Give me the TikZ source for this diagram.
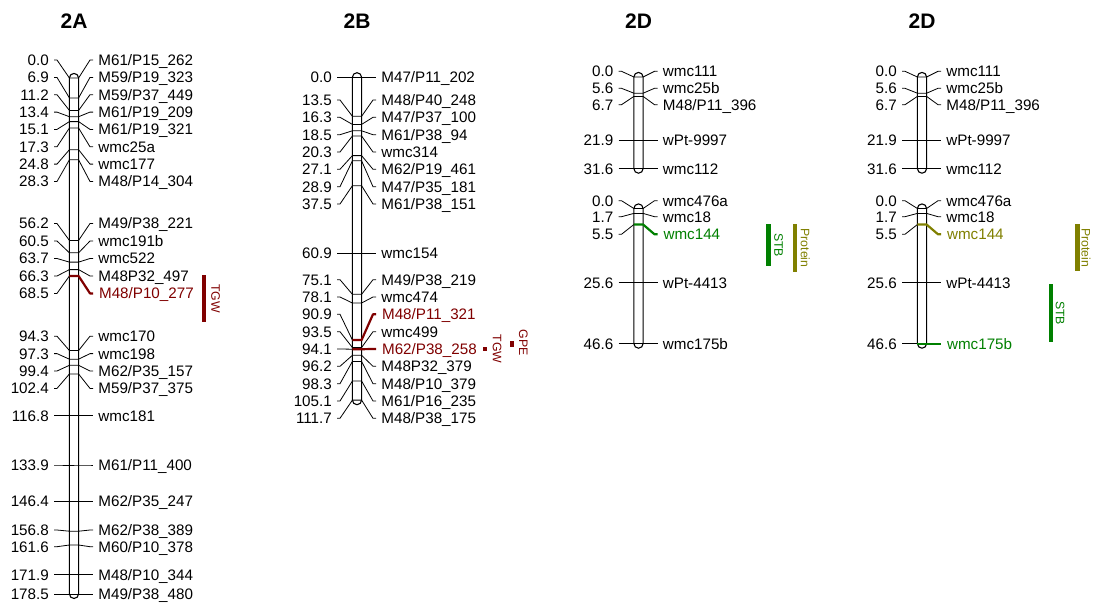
\documentclass[tikz,border=0pt]{standalone}
\usepackage{fontspec}
\setmainfont{Liberation Sans}
\definecolor{qred}{RGB}{128,0,0}
\definecolor{qgreen}{RGB}{0,128,0}
\definecolor{qolive}{RGB}{128,128,0}
\def\hw{4.6}
\tikzset{
 conn/.style={line width=0.8pt, black},
 redmk/.style={line width=2.2pt, qred, line join=round},
 grnmk/.style={line width=2.2pt, qgreen, line join=round},
 olvmk/.style={line width=2.2pt, qolive, line join=round},
 chrbar/.style={line width=1.1pt, draw=black, fill=white, rounded corners=4.6pt},
 numlbl/.style={anchor=base east, inner sep=0pt, font=\fontsize{15.2}{18}\selectfont},
 mklbl/.style={anchor=base west, inner sep=0pt, font=\fontsize{15.2}{18}\selectfont},
 ttl/.style={anchor=base, inner sep=0pt, font=\fontsize{21}{24}\selectfont\bfseries},
 qtltxt/.style={rotate=-90, inner sep=0pt, font=\fontsize{12.3}{14}\selectfont},
}
% #1 style, #2 name, #3 xc, #4 marker y, #5 label y, #6 position, #7 marker name
\newcommand\mk[7]{%
  \draw[conn] ({#3-20},#5) -- ({#3-17},#5) -- ({#3-\hw},#4);
  \node[numlbl] (#2n) at ({#3-25},{#5+5.44}) {#6};
  \draw[#1] ({#3-\hw},#4) -- ({#3+\hw},#4) -- ({#3+16},#5) -- ({#3+19},#5);
  \node[mklbl,#1] (#2) at ({#3+24},{#5+5.44}) {#7};
}
\newcommand\chrbody[3]{% xc, ytop, ybottom
  \draw[chrbar] ({#1-\hw},{#2-\hw}) rectangle ({#1+\hw},{#3+\hw});
}
\begin{document}
\begin{tikzpicture}[x=1pt,y=-1pt]
\useasboundingbox (0,0) rectangle (1096,603);
\fill[white] (0,0) rectangle (1096,603);

% ---------------- 2A ----------------
\node[ttl] (tA) at (74,28.3) {2A};
\chrbody{74}{78}{593.9}
\mk{conn}{a1}{74}{78.0}{60.0}{0.0}{M61/P15\_262}
\mk{conn}{a2}{74}{97.9}{77.4}{6.9}{M59/P19\_323}
\mk{conn}{a3}{74}{110.4}{94.7}{11.2}{M59/P37\_449}
\mk{conn}{a4}{74}{116.7}{112.1}{13.4}{M61/P19\_209}
\mk{conn}{a5}{74}{121.6}{129.4}{15.1}{M61/P19\_321}
\mk{conn}{a6}{74}{128.0}{146.8}{17.3}{wmc25a}
\mk{conn}{a7}{74}{149.7}{164.1}{24.8}{wmc177}
\mk{conn}{a8}{74}{159.8}{181.5}{28.3}{M48/P14\_304}
\mk{conn}{a9}{74}{240.4}{223.5}{56.2}{M49/P38\_221}
\mk{conn}{a10}{74}{252.8}{241.0}{60.5}{wmc191b}
\mk{conn}{a11}{74}{262.1}{258.5}{63.7}{wmc522}
\mk{conn}{a12}{74}{269.6}{276.0}{66.3}{M48P32\_497}
\mk{redmk}{a13}{74}{276.0}{293.4}{68.5}{M48/P10\_277}
\mk{conn}{a14}{74}{350.5}{336.2}{94.3}{wmc170}
\mk{conn}{a15}{74}{359.2}{353.6}{97.3}{wmc198}
\mk{conn}{a16}{74}{365.3}{371.0}{99.4}{M62/P35\_157}
\mk{conn}{a17}{74}{374.0}{388.4}{102.4}{M59/P37\_375}
\mk{conn}{a18}{74}{415.6}{415.6}{116.8}{wmc181}
\mk{conn}{a19}{74}{465.0}{465.0}{133.9}{M61/P11\_400}
\mk{conn}{a20}{74}{501.1}{501.1}{146.4}{M62/P35\_247}
\mk{conn}{a21}{74}{531.2}{530.0}{156.8}{M62/P38\_389}
\mk{conn}{a22}{74}{545.0}{546.7}{161.6}{M60/P10\_378}
\mk{conn}{a23}{74}{574.8}{574.8}{171.9}{M48/P10\_344}
\mk{conn}{a24}{74}{593.9}{593.9}{178.5}{M49/P38\_480}
\fill[qred] (201.7,275) rectangle (206.3,322.3);
\node[qtltxt,text=qred] (qA) at (215.5,298.7) {TGW};

% ---------------- 2B ----------------
\node[ttl] (tB) at (357,28.3) {2B};
\chrbody{357}{77.3}{400.1}
\mk{conn}{b1}{357}{77.3}{77.3}{0.0}{M47/P11\_202}
\mk{conn}{b2}{357}{116.3}{100.0}{13.5}{M48/P40\_248}
\mk{conn}{b3}{357}{124.4}{117.3}{16.3}{M47/P37\_100}
\mk{conn}{b4}{357}{130.8}{134.7}{18.5}{M61/P38\_94}
\mk{conn}{b5}{357}{136.0}{152.0}{20.3}{wmc314}
\mk{conn}{b6}{357}{155.6}{169.3}{27.1}{M62/P19\_461}
\mk{conn}{b7}{357}{160.8}{186.7}{28.9}{M47/P35\_181}
\mk{conn}{b8}{357}{185.7}{204.0}{37.5}{M61/P38\_151}
\mk{conn}{b9}{357}{253.3}{253.3}{60.9}{wmc154}
\mk{conn}{b10}{357}{294.3}{279.7}{75.1}{M49/P38\_219}
\mk{conn}{b11}{357}{303.0}{297.0}{78.1}{wmc474}
\mk{conn}{b13}{357}{347.5}{331.7}{93.5}{wmc499}
\mk{redmk}{b12}{357}{340.0}{314.3}{90.9}{M48/P11\_321}
\mk{redmk}{b14}{357}{349.2}{349.0}{94.1}{M62/P38\_258}
\mk{conn}{b15}{357}{355.3}{366.3}{96.2}{M48P32\_379}
\mk{conn}{b16}{357}{361.4}{383.7}{98.3}{M48/P10\_379}
\mk{conn}{b17}{357}{381.0}{401.0}{105.1}{M61/P16\_235}
\mk{conn}{b18}{357}{400.1}{418.3}{111.7}{M48/P38\_175}
\fill[qred] (483.3,347.3) rectangle (487.3,350.7);
\node[qtltxt,text=qred] (qB1) at (497.2,349) {TGW};
\fill[qred] (510,340.7) rectangle (514.3,346.7);
\node[qtltxt,text=qred] (qB2) at (523.3,342.5) {GPE};

% ---------------- 2D (first) ----------------
\node[ttl] (tD1) at (638.5,28.3) {2D};
\chrbody{638.5}{77}{168.6}
\mk{conn}{c1}{638.5}{77.0}{71.3}{0.0}{wmc111}
\mk{conn}{c2}{638.5}{93.2}{88.3}{5.6}{wmc25b}
\mk{conn}{c3}{638.5}{96.4}{104.7}{6.7}{M48/P11\_396}
\mk{conn}{c4}{638.5}{140.5}{140.5}{21.9}{wPt-9997}
\mk{conn}{c5}{638.5}{168.6}{168.6}{31.6}{wmc112}
\chrbody{638.5}{208.5}{343.6}
\mk{conn}{c6}{638.5}{208.5}{200.7}{0.0}{wmc476a}
\mk{conn}{c7}{638.5}{213.4}{216.7}{1.7}{wmc18}
\mk{grnmk}{c8}{638.5}{224.5}{234.3}{5.5}{wmc144}
\mk{conn}{c9}{638.5}{282.7}{282.7}{25.6}{wPt-4413}
\mk{conn}{c10}{638.5}{343.6}{343.6}{46.6}{wmc175b}
\fill[qgreen] (766,224) rectangle (770.7,265.7);
\node[qtltxt,text=qgreen] (qC1) at (778.7,245) {STB};
\fill[qolive] (792.7,224) rectangle (797.3,271.7);
\node[qtltxt,text=qolive] (qC2) at (805.3,248) {Protein};

% ---------------- 2D (second) ----------------
\node[ttl] (tD2) at (922,28.3) {2D};
\chrbody{922}{77}{168.6}
\mk{conn}{d1}{922}{77.0}{71.3}{0.0}{wmc111}
\mk{conn}{d2}{922}{93.2}{88.3}{5.6}{wmc25b}
\mk{conn}{d3}{922}{96.4}{104.7}{6.7}{M48/P11\_396}
\mk{conn}{d4}{922}{140.5}{140.5}{21.9}{wPt-9997}
\mk{conn}{d5}{922}{168.6}{168.6}{31.6}{wmc112}
\chrbody{922}{208.5}{343.6}
\mk{conn}{d6}{922}{208.5}{200.7}{0.0}{wmc476a}
\mk{conn}{d7}{922}{213.4}{216.7}{1.7}{wmc18}
\mk{olvmk}{d8}{922}{224.5}{234.3}{5.5}{wmc144}
\mk{conn}{d9}{922}{282.7}{282.7}{25.6}{wPt-4413}
\mk{grnmk}{d10}{922}{343.6}{343.6}{46.6}{wmc175b}
\fill[qolive] (1075,224) rectangle (1080,271);
\node[qtltxt,text=qolive] (qD1) at (1086,247.5) {Protein};
\fill[qgreen] (1049,284) rectangle (1053.3,342.3);
\node[qtltxt,text=qgreen] (qD2) at (1060,313) {STB};
\end{tikzpicture}
\end{document}
